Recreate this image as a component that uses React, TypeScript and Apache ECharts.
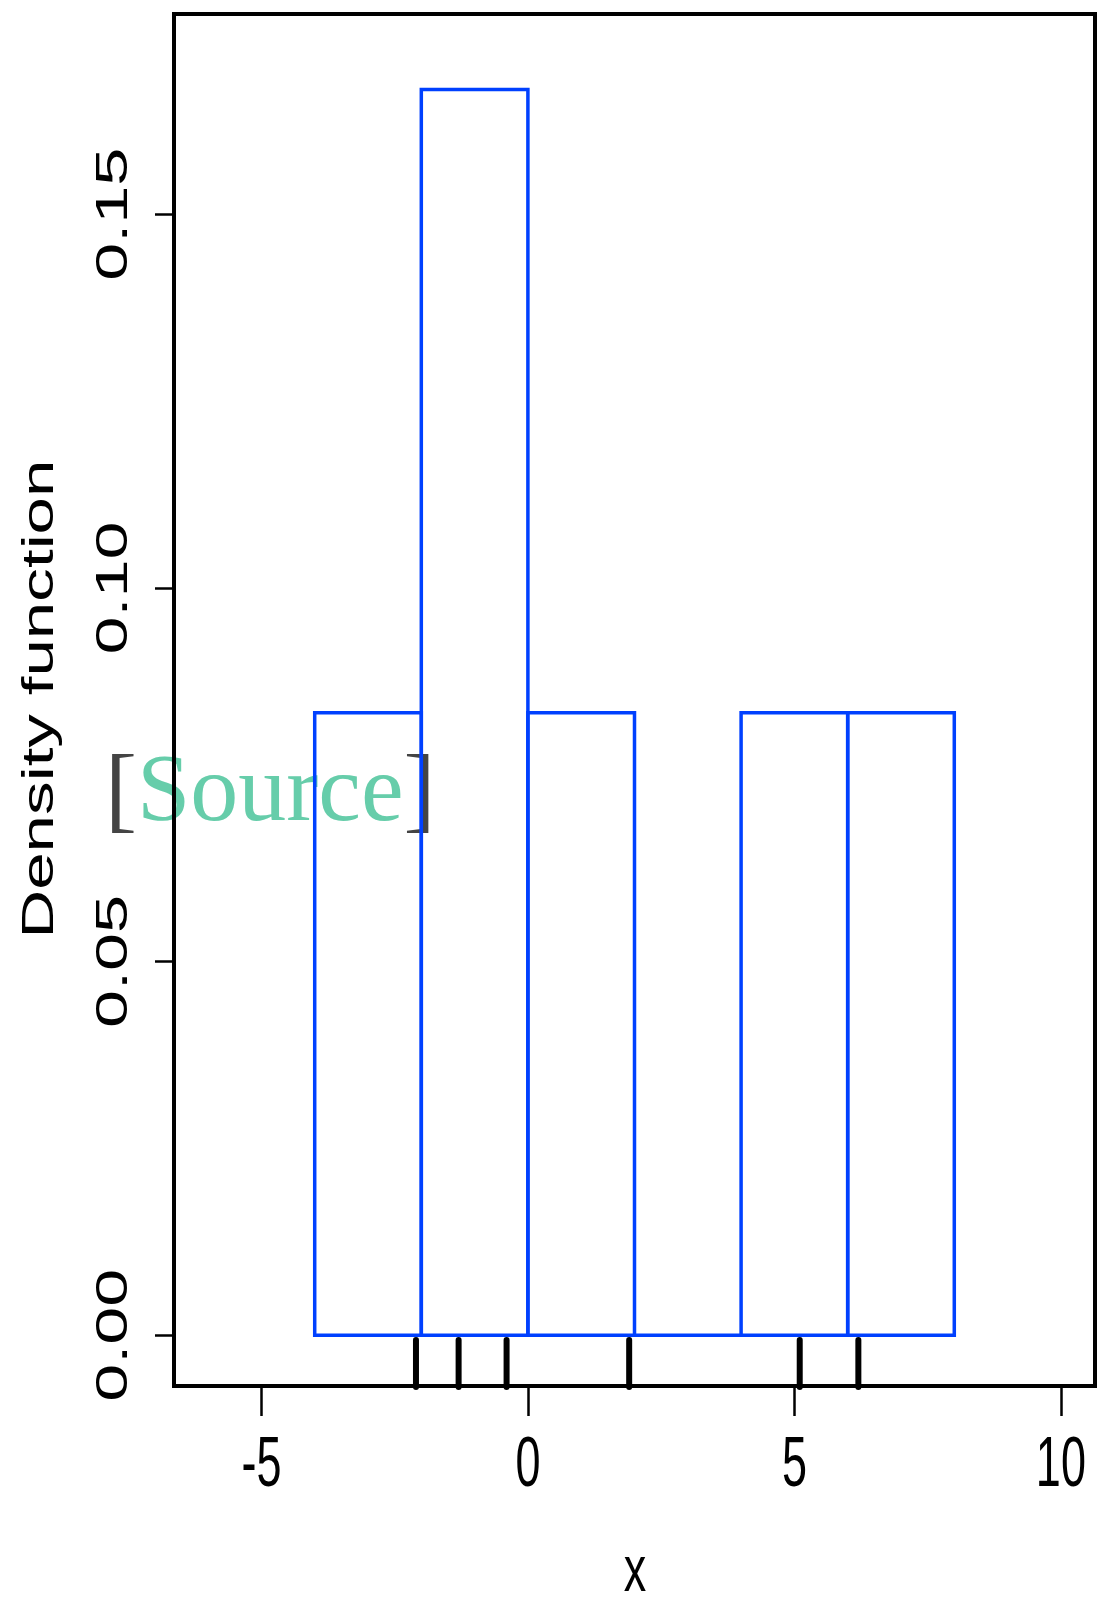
import React, { useEffect, useRef } from "react";
import * as echarts from "echarts";

// ---- data ----
const binEdges = [-4, -2, 0, 2, 4, 6, 8];
const densities = [0.0833, 0.1667, 0.0833, 0, 0.0833, 0.0833];
const rugValues = [-2.1, -1.3, -0.4, 1.9, 5.1, 6.2];
const xTicks = [-5, 0, 5, 10];
const xTickLabels = ["-5", "0", "5", "10"];
const yTicks = [0, 0.05, 0.1, 0.15];
const yTickLabels = ["0.00", "0.05", "0.10", "0.15"];
const xLim = [-6, 10];
const yLim = [0, 0.17];
const xTitle = "x";
const yTitle = "Density function";

// R-style 4% axis extension
const xMin = xLim[0] - 0.04 * (xLim[1] - xLim[0]);
const xMax = xLim[1] + 0.04 * (xLim[1] - xLim[0]);
const yMin = yLim[0] - 0.04 * (yLim[1] - yLim[0]);
const yMax = yLim[1] + 0.04 * (yLim[1] - yLim[0]);

const BLUE = "#0040ff";
const SANS = "Liberation Sans, Arial, sans-serif";

export default function App() {
  const ref = useRef<HTMLDivElement>(null);

  useEffect(() => {
    if (!ref.current) return;
    const chart = echarts.init(ref.current, undefined, { renderer: "svg" });

    const binData = densities.map((d, i) => [binEdges[i], binEdges[i + 1], d]);

    const option: any = {
      animation: false,
      grid: {
        left: 174,
        top: 14,
        right: 2,
        bottom: 219,
        show: true,
        borderColor: "#000",
        borderWidth: 4,
        backgroundColor: "transparent",
      },
      xAxis: {
        type: "value",
        min: xMin,
        max: xMax,
        splitLine: { show: false },
        axisLine: { show: true, onZero: false, lineStyle: { color: "#000", width: 4 } },
        axisTick: {
          show: true,
          customValues: xTicks,
          length: 30,
          inside: false,
          lineStyle: { color: "#000", width: 2.5 },
        },
        axisLabel: { show: false },
      },
      yAxis: {
        type: "value",
        min: yMin,
        max: yMax,
        splitLine: { show: false },
        axisLine: { show: true, onZero: false, lineStyle: { color: "#000", width: 4 } },
        axisTick: {
          show: true,
          customValues: yTicks,
          length: 19,
          inside: false,
          lineStyle: { color: "#000", width: 2.5 },
        },
        axisLabel: { show: false },
      },
      graphic: [
        {
          type: "text",
          x: 105,
          y: 787,
          z: -1,
          style: {
            text: "{a|[}{b|Source}{a|]}",
            align: "left",
            verticalAlign: "middle",
            rich: {
              a: { fill: "#444444", fontFamily: "Liberation Serif", fontSize: 96 },
              b: { fill: "#66cdaa", fontFamily: "Liberation Serif", fontSize: 96 },
            },
          },
        },
        {
          type: "text",
          x: 38,
          y: 699,
          rotation: Math.PI / 2,
          scaleX: 1.53,
          style: {
            text: yTitle,
            fontFamily: SANS,
            fontSize: 44,
            fill: "#000",
            align: "center",
            verticalAlign: "middle",
          },
        },
        {
          type: "text",
          x: 635,
          y: 1568,
          scaleY: 1.45,
          style: {
            text: xTitle,
            fontFamily: SANS,
            fontSize: 45,
            lineHeight: 36,
            fill: "#000",
            align: "center",
            verticalAlign: "middle",
          },
        },
      ],
      series: [
        {
          type: "custom",
          name: "histogram",
          data: binData,
          encode: { x: [0, 1], y: 2 },
          renderItem: (params: any, api: any) => {
            const a = api.coord([api.value(0), 0]);
            const b = api.coord([api.value(1), api.value(2)]);
            return {
              type: "polygon",
              shape: {
                points: [
                  [a[0], a[1]],
                  [a[0], b[1]],
                  [b[0], b[1]],
                  [b[0], a[1]],
                ],
              },
              style: { fill: "none", stroke: BLUE, lineWidth: 3.5, lineJoin: "miter" },
            };
          },
        },
        {
          type: "custom",
          name: "rug",
          data: rugValues.map((v) => [v, yMin]),
          encode: { x: 0, y: 1 },
          z: 5,
          renderItem: (params: any, api: any) => {
            const p = api.coord([api.value(0), api.value(1)]);
            return {
              type: "line",
              shape: { x1: p[0], y1: p[1] + 1, x2: p[0], y2: p[1] - 46 },
              style: { stroke: "#000", lineWidth: 6, lineCap: "round" },
            };
          },
        },
        {
          type: "custom",
          name: "xlabels",
          data: xTicks.map((v) => [v, yMin]),
          encode: { x: 0, y: 1 },
          renderItem: (params: any, api: any) => {
            const p = api.coord([api.value(0), api.value(1)]);
            return {
              type: "text",
              x: p[0],
              y: p[1] + 76,
              scaleY: 1.55,
              style: {
                text: xTickLabels[params.dataIndex],
                fontFamily: SANS,
                fontSize: 45,
                fill: "#000",
                align: "center",
                verticalAlign: "middle",
              },
            };
          },
        },
        {
          type: "custom",
          name: "ylabels",
          data: yTicks.map((v) => [xMin, v]),
          encode: { x: 0, y: 1 },
          renderItem: (params: any, api: any) => {
            const p = api.coord([api.value(0), api.value(1)]);
            return {
              type: "text",
              x: p[0] - 63,
              y: p[1],
              rotation: Math.PI / 2,
              scaleX: 1.52,
              style: {
                text: yTickLabels[params.dataIndex],
                fontFamily: SANS,
                fontSize: 45,
                fill: "#000",
                align: "center",
                verticalAlign: "middle",
              },
            };
          },
        },
      ],
    };

    chart.setOption(option);
    return () => {
      chart.dispose();
    };
  }, []);

  return (
    <div
      ref={ref}
      style={{ position: "absolute", left: 0, top: 0, width: 1097, height: 1605, background: "#fff" }}
    />
  );
}
